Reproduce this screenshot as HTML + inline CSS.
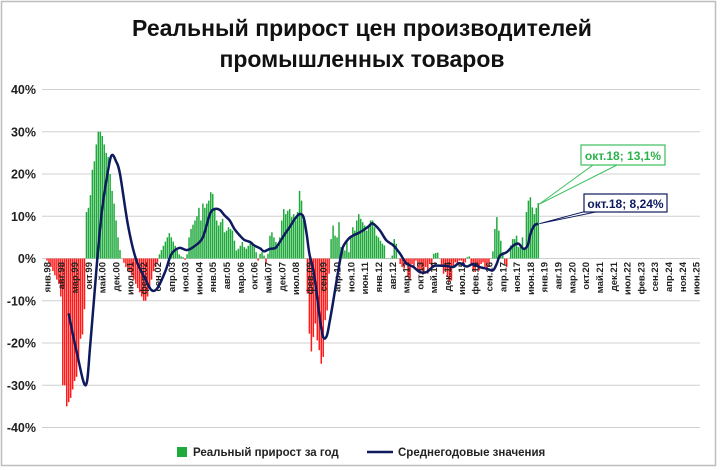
<!DOCTYPE html>
<html><head><meta charset="utf-8"><style>
html,body{margin:0;padding:0;background:#fff;}
svg{display:block;font-family:"Liberation Sans",sans-serif;}
</style></head><body>
<svg id="chart" width="720" height="470" viewBox="0 0 720 470" xmlns="http://www.w3.org/2000/svg">
<rect x="1.5" y="1.5" width="714" height="464" fill="#fff" stroke="#bdbdbd" stroke-width="1.5"/>
<text x="362" y="36" text-anchor="middle" font-size="23" font-weight="bold" fill="#111">Реальный прирост цен производителей</text>
<text x="362" y="67" text-anchor="middle" font-size="23" font-weight="bold" fill="#111">промышленных товаров</text>
<g id="grid"></g><g id="yticks"></g><g id="bars"></g><g id="xlabels"></g><g id="line"></g><g id="annot"></g>
<g>
<rect x="177" y="447" width="10" height="10" fill="#1faa3c"/>
<text x="193" y="456" font-size="11.5" font-weight="bold" fill="#222">Реальный прирост за год</text>
<line x1="367" y1="452" x2="393" y2="452" stroke="#0d1a5e" stroke-width="2.5"/>
<text x="398" y="456" font-size="11.5" font-weight="bold" fill="#222">Среднегодовые значения</text>
</g>
</svg>
<script>
const barValues = [-0.5,-1,-2,-3,-4,-5,-6,-9,-30,-30,-35,-34,-33,-31,-29,-28,-24,-19,-18,-12,
11,12,15,21,23,27,30,30,29,27,25,24,20,16,13,9,5,2,
0,-1,-2,-3,-3,-4,-5,-6,-7,-8,-9,-10,-10,-9,-7,-5,-3,-2,-1,
1,2,3,4,5,6,5,4,3,2,1,0.5,0.3,-0.3,1,
5,7,8,9,10,12,
9,13,12,13,13.7,15.7,15.3,12,9,7.8,
8.6,9.4,6.2,6.6,7.4,7,6.6,4.2,1.9,2.3,
3,3.9,2.7,2.3,3,3.5,3.9,2.7,1.5,-0.5,
1.1,1.5,0.7,-1.2,1.1,5.4,6.2,5,3.9,2.7,
5,9,11.7,10.5,11.3,11.7,9.8,10.5,9,11,
16,13.7,9,0,-8.3,-17.8,-22,-18.6,-15.4,-19.4,
-21.7,-24.9,-23.3,-14.6,-12.3,-3.6,4.6,7.8,5.4,5,
8.6,2.7,3,1.9,4.2,1.5,5,7.4,6.6,9,
10.5,
9.4,8.6,7.8,6.6,7.4,9,9,7.4,5.4,5,
4.2,3.5,3.1,0,0,0,0.7,4.6,3.5,0,
-1.3,-2,-2.4,-1.3,-4.4,-4.8,-1.3,-2,-0.5,-2.8,
-3.6,-2.8,-3.2,-2,-3.6,-1.3,-2,1.1,1.3,1.4,
0,-2,-3.6,-2.8,-4.4,-5.6,-5.2,-2,-0.9,-1.3,
-0.5,-0.5,-1.3,-0.9,0.3,0.5,-1.3,-2.8,-3.2,-2,
-2.8,-1.3,-0.9,-2,-2.8,-2,0,1.7,7,9.8,
6.6,4.2,1.5,-1.3,-2,0,3.1,4.6,4.6,5.4,
2.7,2.7,5,2.3,11,13.7,14.5,12.1,10.5,12,13.1];
const lineMonths = [11,15,19.6,22,25.5,28,31.4,33,35,37,41,45,50,53,56,60,63,67,71,75,79,82.6,85,87.6,90,92.6,95,97.8,100,102.9,105,108,110,113,115.8,118,120.6,123,125.7,128,130,131.6,133,135,136.7,138.4,140,141.8,143.4,145,146.8,148.5,150,152.7,155,157.8,160,163,164.6,166,168.8,172,175.5,179,182,185.7,189,192.4,196,199,202.5,206,209,212.7,216,219,222.7,226,227.9,229.6,233,236.5,239,241.5,243.6,245,247,249];
const lineValues = [-13,-22,-30,-20,0,12,22,24.5,23,20,8,0,-5,-7.5,-7,-3,1,2.5,2,3,5,10.5,11.7,11.5,10.2,9,7,5.4,4.4,3.9,3.1,2.4,1.7,2.3,2.5,3.9,5.8,7.4,9.4,10.5,9.8,5.8,1.1,-2.8,-8.3,-14.6,-18.6,-18.3,-14.6,-10.3,-5.2,-0.5,2.7,4.6,5.4,6,6.6,7.6,8.3,8,6.6,4.3,3.1,1.1,-1.1,-2,-3.2,-3.2,-1.8,-1.7,-1.8,-2,-1.1,-1.9,-1.3,-2,-2.4,-2.8,-1.3,0.7,1.5,3.1,3.5,2.3,3.1,5.8,7.8,8.24];
const yTicks = [40,30,20,10,0,-10,-20,-30,-40];
const monthNames = ["янв","фев","мар","апр","май","июн","июл","авг","сен","окт","ноя","дек"];
const totalMonths = 330;
const labelStep = 7;
const annotBarText = "окт.18; 13,1%";
const annotLineText = "окт.18; 8,24%";

const NS="http://www.w3.org/2000/svg";
const X0=47, DX=1.973, Y0=258.5, DY=4.225;
function xOf(i){return X0+i*DX;}
function yOf(v){return Y0-v*DY;}
function mk(tag,attrs,parent){const e=document.createElementNS(NS,tag);for(const k in attrs)e.setAttribute(k,attrs[k]);parent.appendChild(e);return e;}

const grid=document.getElementById('grid'), yt=document.getElementById('yticks');
yTicks.forEach(v=>{
  const l=mk('line',{x1:42,x2:700,y1:yOf(v),y2:yOf(v),stroke:'#d0d0d0','stroke-width':1},grid);
  
  
  const t=mk('text',{x:36,y:yOf(v)+4.5,'text-anchor':'end','font-size':12.5,'font-weight':'bold',fill:'#222'},yt);
  
  
  t.textContent=v+'%';
});

const bars=document.getElementById('bars');
barValues.forEach((v,i)=>{
  const y=Math.min(yOf(v),Y0), h=Math.abs(yOf(v)-Y0);
  const r=mk('rect',{x:xOf(i)-0.75,y:y,width:1.5,height:Math.max(h,0.3),fill:v>=0?'#1faa3c':'#ff1a1a'},bars);
  
  
});

const xl=document.getElementById('xlabels');
for(let i=0;i<totalMonths;i+=labelStep){
  const yr=(98+Math.floor(i/12))%100;
  const lab=monthNames[i%12]+'.'+(yr<10?'0'+yr:yr);
  const x=xOf(i)+3.5, y=262;
  const t=mk('text',{x:x,y:y,transform:'rotate(-90 '+x+' '+y+')','text-anchor':'end','font-size':9.5,'font-weight':'bold',fill:'#222'},xl);
  
  
  t.textContent=lab;
}

const pts=lineMonths.map((m,k)=>[xOf(m),yOf(lineValues[k])]);
let d='M'+pts[0][0]+','+pts[0][1];
for(let k=0;k<pts.length-1;k++){
  const p0=pts[Math.max(k-1,0)],p1=pts[k],p2=pts[k+1],p3=pts[Math.min(k+2,pts.length-1)];
  const c1=[p1[0]+(p2[0]-p0[0])/6,p1[1]+(p2[1]-p0[1])/6];
  const c2=[p2[0]-(p3[0]-p1[0])/6,p2[1]-(p3[1]-p1[1])/6];
  d+=' C'+c1[0]+','+c1[1]+' '+c2[0]+','+c2[1]+' '+p2[0]+','+p2[1];
}
const lp=mk('path',{d:d,fill:'none',stroke:'#0d1a5e','stroke-width':2.5,'stroke-linejoin':'round'},document.getElementById('line'));



const an=document.getElementById('annot');
const lastI=barValues.length-1;
const bx=xOf(lastI), by=yOf(barValues[lastI]);
const g1=mk('polygon',{points:(bx+1)+','+(by+1)+' 593,165 617,165',fill:'#fff',stroke:'#3cbf5e','stroke-width':1},an);


const gb=mk('rect',{x:581,y:145,width:84,height:20,fill:'#fff',stroke:'#3cbf5e','stroke-width':1.2},an);


const gt=mk('text',{x:623,y:160,'text-anchor':'middle','font-size':12,'font-weight':'bold',fill:'#2bb24c'},an);


gt.textContent=annotBarText;
const lx=xOf(lineMonths[lineMonths.length-1]), ly=yOf(lineValues[lineValues.length-1]);
const n1=mk('polygon',{points:(lx+1)+','+ly+' 598,208 620,207',fill:'#fff',stroke:'#0d1a5e','stroke-width':1},an);


const nb=mk('rect',{x:584,y:194,width:83,height:18,fill:'#fff',stroke:'#0d1a5e','stroke-width':1.2},an);


const nt=mk('text',{x:625.5,y:208,'text-anchor':'middle','font-size':12,'font-weight':'bold',fill:'#0d1a5e'},an);


nt.textContent=annotLineText;
</script>
</body></html>
